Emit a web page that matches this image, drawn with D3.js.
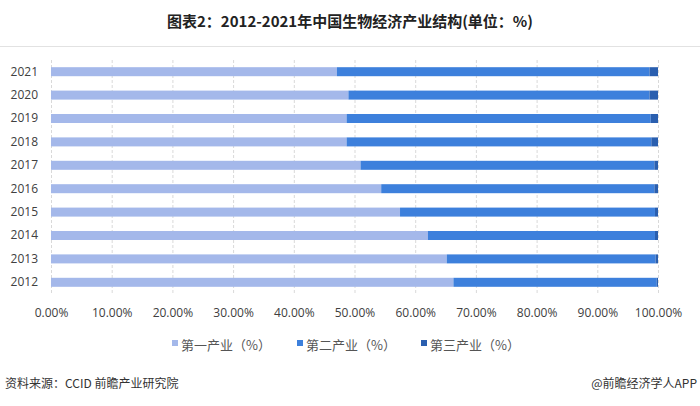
<!DOCTYPE html>
<html><head><meta charset="utf-8">
<script src="https://cdn.jsdelivr.net/npm/d3@7"></script>
<style>body{margin:0;background:#fff;}svg{display:block;font-family:"Noto Sans CJK SC","Noto Sans",sans-serif;}</style>
</head><body>
<svg id="c" width="700" height="406"></svg>
<script>
const years = ["2012","2013","2014","2015","2016","2017","2018","2019","2020","2021"];
const primary = [66.3,65.2,62.1,57.5,54.4,51.0,48.7,48.7,49.0,47.1];
const tertiary = [0.2,0.4,0.5,0.5,0.6,0.6,1.1,1.2,1.4,1.4];
const secondary = primary.map((p,i)=>+(100-p-tertiary[i]).toFixed(1));
const seriesNames = ["第一产业（%）","第二产业（%）","第三产业（%）"];
const colors = ["#a4b8ea","#3d80dc","#2a5faf"];
const xTicks = [0,10,20,30,40,50,60,70,80,90,100];

const svg = d3.select("#c");
svg.append("text").attr("x",350).attr("y",27).attr("text-anchor","middle")
  .attr("font-size",15).attr("font-weight","bold").attr("fill","#222")
  .text("图表2：2012-2021年中国生物经济产业结构(单位：%)");
svg.append("line").attr("x1",0).attr("x2",700).attr("y1",46.5).attr("y2",46.5)
  .attr("stroke","#e2e2e2").attr("stroke-width",1);

const x = d3.scaleLinear().domain([0,100]).range([51,658]);
const y = d3.scaleBand().domain(years.slice().reverse()).range([60,294]).paddingInner(0.615).paddingOuter(0.3075);

const grid = svg.append("g");
grid.selectAll("line").data(xTicks).join("line")
  .attr("x1",d=>x(d)+0.5).attr("x2",d=>x(d)+0.5).attr("y1",60).attr("y2",295)
  .attr("stroke","#d9d9d9").attr("stroke-dasharray","3,2");

const data = years.map((yr,i)=>({year:yr,v:[primary[i],secondary[i],tertiary[i]]}));
const stack = d3.stack().keys([0,1,2]).value((d,k)=>d.v[k]);
const layers = stack(data);
svg.selectAll("g.layer").data(layers).join("g").attr("class","layer")
  .attr("fill",(d,i)=>colors[i])
  .selectAll("rect").data(d=>d).join("rect")
  .attr("x",d=>x(d[0])).attr("width",d=>x(d[1])-x(d[0]))
  .attr("y",d=>y(d.data.year)).attr("height",y.bandwidth());

const yAxis = d3.axisLeft(y).tickSize(0).tickPadding(0);
const ya = svg.append("g").attr("transform","translate(38,0)").call(yAxis);
ya.select(".domain").remove();
ya.selectAll("text").attr("font-size",12).attr("fill","#404040").attr("font-family","'Open Sans','Noto Sans',sans-serif");

const xAxis = d3.axisBottom(x).tickValues(xTicks).tickSize(0).tickPadding(0).tickFormat(d=>d.toFixed(2)+"%");
const xa = svg.append("g").attr("transform","translate(0,308)").call(xAxis);
xa.select(".domain").remove();
xa.selectAll("text").attr("font-size",12).attr("fill","#404040").attr("font-family","'Open Sans','Noto Sans',sans-serif");

const legX = [172,297,421];
const leg = svg.append("g");
seriesNames.forEach((n,i)=>{
  leg.append("rect").attr("x",legX[i]).attr("y",340).attr("width",6).attr("height",6).attr("fill",colors[i]);
  leg.append("text").attr("x",legX[i]+9).attr("y",349.5).attr("font-size",13).attr("fill","#555").text(n);
});

svg.append("text").attr("x",5).attr("y",388).attr("font-size",12).attr("fill","#333").text("资料来源：CCID 前瞻产业研究院");
svg.append("text").attr("x",697).attr("y",388).attr("text-anchor","end").attr("font-size",12).attr("fill","#333").text("@前瞻经济学人APP");
</script>
</body></html>
